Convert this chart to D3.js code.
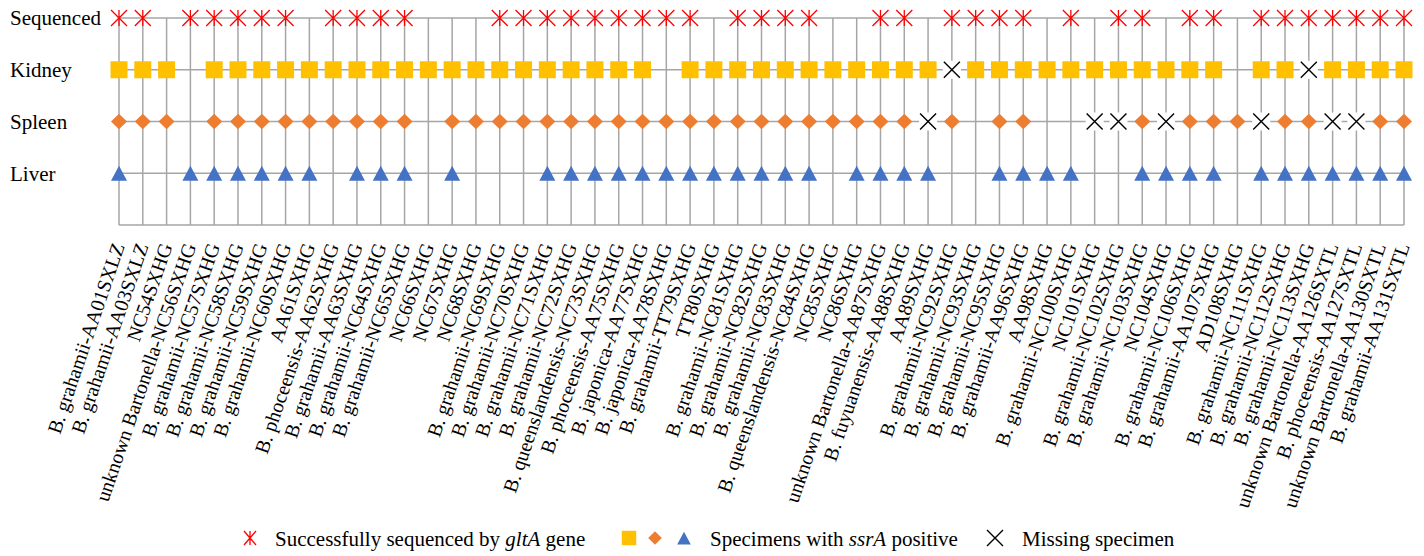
<!DOCTYPE html>
<html>
<head>
<meta charset="utf-8">
<script src="https://cdn.jsdelivr.net/npm/d3@7"></script>
<style>
  body { margin: 0; background: #fff; }
  svg, svg text { font-family: "Liberation Serif", "Times New Roman", serif; }
  svg { display: block; }
</style>
</head>
<body>
<svg id="chart" width="1424" height="556"></svg>
<script>
//----------------
// Data
//----------------

const samples = [
  "B. grahamii-AA01SXLZ", "B. grahamii-AA03SXLZ", "NC54SXHG", "unknown Bartonella-NC56SXHG",
  "B. grahamii-NC57SXHG", "B. grahamii-NC58SXHG", "B. grahamii-NC59SXHG", "B. grahamii-NC60SXHG",
  "AA61SXHG", "B. phoceensis-AA62SXHG", "B. grahamii-AA63SXHG", "B. grahamii-NC64SXHG",
  "B. grahamii-NC65SXHG", "NC66SXHG", "NC67SXHG", "NC68SXHG", "B. grahamii-NC69SXHG",
  "B. grahamii-NC70SXHG", "B. grahamii-NC71SXHG", "B. grahamii-NC72SXHG",
  "B. queenslandensis-NC73SXHG", "B. phoceensis-AA75SXHG", "B. japonica-AA77SXHG",
  "B. japonica-AA78SXHG", "B. grahamii-TT79SXHG", "TT80SXHG", "B. grahamii-NC81SXHG",
  "B. grahamii-NC82SXHG", "B. grahamii-NC83SXHG", "B. queenslandensis-NC84SXHG",
  "NC85SXHG", "NC86SXHG", "unknown Bartonella-AA87SXHG", "B. fuyuanensis-AA88SXHG",
  "AA89SXHG", "B. grahamii-NC92SXHG", "B. grahamii-NC93SXHG", "B. grahamii-NC95SXHG",
  "B. grahamii-AA96SXHG", "AA98SXHG", "B. grahamii-NC100SXHG", "NC101SXHG",
  "B. grahamii-NC102SXHG", "B. grahamii-NC103SXHG", "NC104SXHG", "B. grahamii-NC106SXHG",
  "B. grahamii-AA107SXHG", "AD108SXHG", "B. grahamii-NC111SXHG", "B. grahamii-NC112SXHG",
  "B. grahamii-NC113SXHG", "unknown Bartonella-AA126SXTL", "B. phoceensis-AA127SXTL",
  "unknown Bartonella-AA130SXTL", "B. grahamii-AA131SXTL"
];

// 1 = positive, 0 = negative, -1 = missing specimen
const sequenced = [1,1,0,1,1,1,1,1,0,1, 1,1,1,0,0,0,1,1,1,1, 1,1,1,1,1,0,1,1,1,1,
                   0,0,1,1,0,1,1,1,1,0, 1,0,1,1,0,1,1,0,1,1, 1,1,1,1,1];
const kidney    = [1,1,1,0,1,1,1,1,1,1, 1,1,1,1,1,1,1,1,1,1, 1,1,1,0,1,1,1,1,1,1,
                   1,1,1,1,1,-1,1,1,1,1, 1,1,1,1,1,1,1,0,1,1, -1,1,1,1,1];
const spleen    = [1,1,1,0,1,1,1,1,1,1, 1,1,1,0,1,1,1,1,1,1, 1,1,1,1,1,1,1,1,1,1,
                   1,1,1,1,-1,1,0,1,1,0, 0,-1,-1,1,-1,1,1,1,-1,1, 1,-1,-1,1,1];
const liver     = [1,0,0,1,1,1,1,1,1,0, 1,1,1,0,1,0,0,0,1,1, 1,1,1,1,1,1,1,1,1,1,
                   0,1,1,1,1,0,0,1,1,1, 1,0,0,1,1,1,1,0,1,1, 1,1,1,1,1];

const rowNames = ["Sequenced", "Kidney", "Spleen", "Liver"];
const rowLevels = [4, 3, 2, 1];

//----------------
// Constants
//----------------

const gridColor = "#a6a6a6";
const colors = {
  Sequenced: "#ff0000",
  Kidney: "#ffc000",
  Spleen: "#ed7d31",
  Liver: "#4472c4",
  missing: "#000000"
};

//----------------
// Marker shapes
//----------------

function starPath(s) {
  return `M${-s},${-s}L${s},${s}M${-s},${s}L${s},${-s}M0,${-s}L0,${s}`;
}
function crossPath(s) {
  return `M${-s},${-s}L${s},${s}M${-s},${s}L${s},${-s}`;
}
function squarePath(s) {
  return `M${-s},${-s}H${s}V${s}H${-s}Z`;
}
function diamondPath(w, h) {
  return `M0,${-h}L${w},0L0,${h}L${-w},0Z`;
}
function trianglePath(w, h) {
  return `M0,${-h}L${w},${h}L${-w},${h}Z`;
}

function drawMarker(g, kind, cx, cy, big) {
  var k = big ? 1 : 0.85;
  if (kind === "Sequenced") {
    g.append("path").attr("d", starPath(8 * k)).attr("transform", `translate(${cx},${cy})`)
      .attr("stroke", colors.Sequenced).attr("stroke-width", 1.3).attr("fill", "none");
  } else if (kind === "Kidney") {
    g.append("path").attr("d", squarePath(8.5 * k)).attr("transform", `translate(${cx},${cy})`)
      .attr("fill", colors.Kidney);
  } else if (kind === "Spleen") {
    g.append("path").attr("d", diamondPath(8 * k, 7.8 * k)).attr("transform", `translate(${cx},${cy})`)
      .attr("fill", colors.Spleen);
  } else if (kind === "Liver") {
    g.append("path").attr("d", trianglePath(8 * k, 7.5 * k)).attr("transform", `translate(${cx},${cy})`)
      .attr("fill", colors.Liver);
  } else {
    g.append("rect").attr("x", cx - 9 * k).attr("y", cy - 9 * k)
      .attr("width", 18 * k).attr("height", 18 * k).attr("fill", "#fff");
    g.append("path").attr("d", crossPath(8 * k)).attr("transform", `translate(${cx},${cy})`)
      .attr("stroke", colors.missing).attr("stroke-width", 1.4).attr("fill", "none");
  }
}

//----------------
// Main
//----------------

const svg = d3.select("#chart");

const x = d3.scalePoint()
  .domain(samples)
  .range([119, 1404]);

const y = d3.scaleLinear()
  .domain([0, 4])
  .range([225, 18]);

const rows = {Sequenced: sequenced, Kidney: kidney, Spleen: spleen, Liver: liver};

// grid
var grid = svg.append("g").attr("id", "grid")
  .attr("stroke", gridColor).attr("stroke-width", 1.5);

grid.selectAll(".vline")
  .data(samples)
  .enter().append("line")
    .attr("class", "vline")
    .attr("x1", d => x(d)).attr("x2", d => x(d))
    .attr("y1", y(4)).attr("y2", y(0));

grid.selectAll(".hline")
  .data([0].concat(rowLevels))
  .enter().append("line")
    .attr("class", "hline")
    .attr("x1", x(samples[0])).attr("x2", x(samples[samples.length - 1]))
    .attr("y1", d => y(d)).attr("y2", d => y(d));

// row labels
svg.append("g").selectAll("text")
  .data(rowNames)
  .enter().append("text")
    .attr("x", 10)
    .attr("y", (d, i) => y(rowLevels[i]))
    .attr("dy", "0.35em")
    .attr("font-size", 21)
    .attr("fill", "#000")
    .text(d => d);

// markers
var marks = svg.append("g").attr("id", "marks");
rowNames.forEach(function(name, r) {
  rows[name].forEach(function(v, i) {
    if (v === 0) return;
    drawMarker(marks, v === 1 ? name : "missing", x(samples[i]), y(rowLevels[r]), true);
  });
});

// sample labels
svg.append("g").selectAll("text")
  .data(samples)
  .enter().append("text")
    .attr("transform", d => `translate(${x(d) + 6},${y(0) + 21}) rotate(-71)`)
    .attr("text-anchor", "end")
    .attr("font-size", 20)
    .attr("fill", "#000")
    .text(d => d);

// legend
var legend = svg.append("g").attr("id", "legend").attr("font-size", 21);
var ly = 540;

legend.append("path").attr("d", `M-6,-7L6,7M-6,7L6,-7M0,-7L0,7`)
  .attr("transform", `translate(250,${ly - 2})`)
  .attr("stroke", colors.Sequenced).attr("stroke-width", 1.3).attr("fill", "none");
var t1 = legend.append("text").attr("x", 275).attr("y", ly + 6);
t1.append("tspan").text("Successfully sequenced by ");
t1.append("tspan").attr("font-style", "italic").text("gltA");
t1.append("tspan").text(" gene");

drawMarker(legend, "Kidney", 629, ly - 2, false);
drawMarker(legend, "Spleen", 655, ly - 2, false);
drawMarker(legend, "Liver", 684, ly - 2, false);
var t2 = legend.append("text").attr("x", 710).attr("y", ly + 6);
t2.append("tspan").text("Specimens with ");
t2.append("tspan").attr("font-style", "italic").text("ssrA");
t2.append("tspan").text(" positive");

legend.append("path").attr("d", crossPath(8))
  .attr("transform", `translate(995,${ly - 2})`)
  .attr("stroke", colors.missing).attr("stroke-width", 1.4).attr("fill", "none");
legend.append("text").attr("x", 1022).attr("y", ly + 6).text("Missing specimen");
</script>
</body>
</html>
